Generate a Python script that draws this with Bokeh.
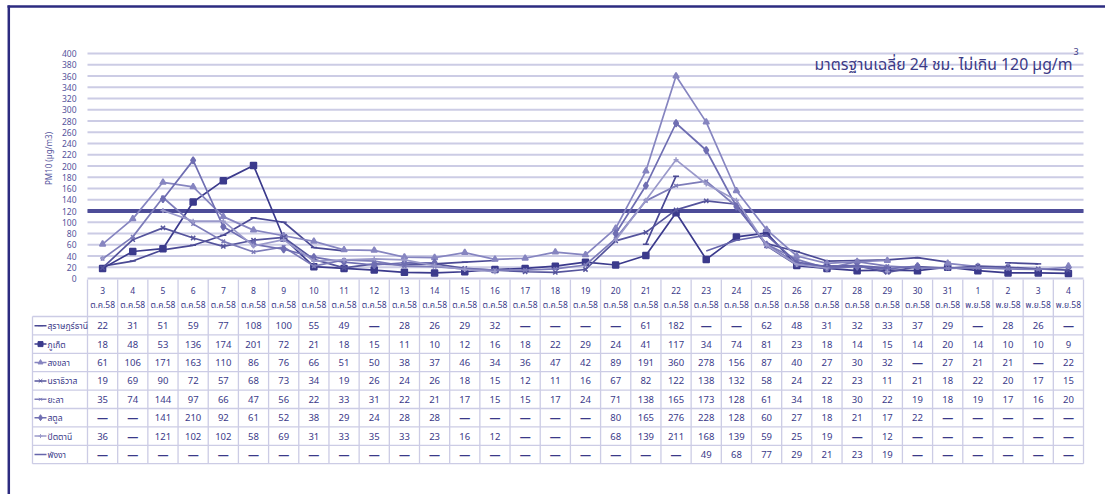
import math
from bokeh.plotting import figure
from bokeh.models import Range1d
from bokeh.core.properties import value
from bokeh.embed import file_html
from bokeh.resources import INLINE

N = None
days = [3, 4, 5, 6, 7, 8, 9, 10, 11, 12, 13, 14, 15, 16, 17, 18, 19, 20, 21, 22,
        23, 24, 25, 26, 27, 28, 29, 30, 31, 1, 2, 3, 4]
months = ["ต.ค.58"] * 29 + ["พ.ย.58"] * 4

stations = ["สุราษฎร์ธานี", "ภูเก็ต", "สงขลา", "นราธิวาส", "ยะลา", "สตูล", "ปัตตานี", "พังงา"]

surat = [22, 31, 51, 59, 77, 108, 100, 55, 49, N, 28, 26, 29, 32, N, N, N, N, 61, 182,
         N, N, 62, 48, 31, 32, 33, 37, 29, N, 28, 26, N]
phuket = [18, 48, 53, 136, 174, 201, 72, 21, 18, 15, 11, 10, 12, 16, 18, 22, 29, 24, 41, 117,
          34, 74, 81, 23, 18, 14, 15, 14, 20, 14, 10, 10, 9]
songkhla = [61, 106, 171, 163, 110, 86, 76, 66, 51, 50, 38, 37, 46, 34, 36, 47, 42, 89, 191, 360,
            278, 156, 87, 40, 27, 30, 32, N, 27, 21, 21, N, 22]
narathiwat = [19, 69, 90, 72, 57, 68, 73, 34, 19, 26, 24, 26, 18, 15, 12, 11, 16, 67, 82, 122,
              138, 132, 58, 24, 22, 23, 11, 21, 18, 22, 20, 17, 15]
yala = [35, 74, 144, 97, 66, 47, 56, 22, 33, 31, 22, 21, 17, 15, 15, 17, 24, 71, 138, 165,
        173, 128, 61, 34, 18, 30, 22, 19, 18, 19, 17, 16, 20]
satun = [N, N, 141, 210, 92, 61, 52, 38, 29, 24, 28, 28, N, N, N, N, N, 80, 165, 276,
         228, 128, 60, 27, 18, 21, 17, 22, N, N, N, N, N]
pattani = [36, N, 121, 102, 102, 58, 69, 31, 33, 35, 33, 23, 16, 12, N, N, N, 68, 139, 211,
           168, 139, 59, 25, 19, N, 12, N, N, N, N, N, N]
phangnga = [N] * 20 + [49, 68, 77, 29, 21, 23, 19] + [N] * 6

series = [surat, phuket, songkhla, narathiwat, yala, satun, pattani, phangnga]

y_ticks = list(range(0, 401, 20))
threshold = 120
title_text = "มาตรฐานเฉลี่ย 24 ชม. ไม่เกิน 120 µg/m"
y_title = "PM10 (µg/m3)"

# styles
colors = ["#4a4994", "#3b3a8c", "#8685c0", "#55549c", "#7d7cb9", "#6f6eb2", "#9a99ca", "#6665ab"]
markers = ["dash", "square", "triangle", "x", "x", "diamond", "cross", None]
msizes = [6, 6, 6, 6, 5, 7, 5, 0]
navy = "#3a3989"
grid_col = "#cccce5"
FONT = "Noto Sans, Noto Sans Thai, Tahoma, sans-serif"

# pixel geometry (page coordinates; the page has no margin)
W, H = 1105, 494
PXX = 996 / 33.0     # px per category
PXY = 225 / 400.0    # px per unit
x0_page, y0_page = 87, 278

def xd(page_x):
    return (page_x - x0_page) / PXX

def yd(page_y):
    return (y0_page - page_y) / PXY

p = figure(width=W, height=H, output_backend="svg", toolbar_location=None,
           x_range=Range1d(xd(0), xd(W)), y_range=Range1d(yd(H), yd(0)),
           x_axis_location=None, y_axis_location=None, min_border=0)
p.outline_line_color = None
p.grid.visible = False

n = len(days)
xs = [i + 0.5 for i in range(n)]

# frame lines
p.segment(x0=[xd(7)], y0=[yd(6)], x1=[xd(W)], y1=[yd(6)], line_color="#2c2b80", line_width=2.5)
p.segment(x0=[xd(8.3)], y0=[yd(5)], x1=[xd(8.3)], y1=[yd(H)], line_color="#2c2b80", line_width=2.5)

# gridlines
p.segment(x0=[0] * len(y_ticks), y0=y_ticks, x1=[n] * len(y_ticks), y1=y_ticks,
          line_color=grid_col, line_width=2)
p.text(x=[xd(76)] * len(y_ticks), y=y_ticks, text=[str(t) for t in y_ticks],
       text_align="right", text_baseline="middle", text_font=value(FONT),
       text_font_size=value("8.5px"), text_color="#55549c")
p.text(x=[xd(48)], y=[yd(158)], text=[y_title], angle=math.pi / 2, text_align="center",
       text_baseline="middle", text_font=value(FONT), text_font_size=value("8px"),
       text_color="#55549c")

# threshold
p.segment(x0=[0], y0=[threshold], x1=[n], y1=[threshold], line_color="#4d4c98", line_width=4)

# series
for vals, c, m, ms in zip(series, colors, markers, msizes):
    ys = [float("nan") if v is None else v for v in vals]
    p.line(xs, ys, line_color=c, line_width=1.7)
    if m:
        px = [x for x, v in zip(xs, vals) if v is not None]
        py = [v for v in vals if v is not None]
        p.scatter(px, py, marker=m, size=ms, line_color=c, fill_color=c, line_width=1.5)

# title
p.text(x=[xd(1072)], y=[yd(63)], text=[title_text], text_align="right", text_baseline="alphabetic",
       text_font=value(FONT), text_font_size=value("15.8px"), text_color="#3b3a86")
p.text(x=[xd(1073)], y=[yd(51)], text=["3"], text_align="left", text_baseline="alphabetic",
       text_font=value(FONT), text_font_size=value("9px"), text_color="#3b3a86")

# table
row_top = 316
row_h = 18.4
nrows = len(stations)
row_lines = [yd(row_top + k * row_h) for k in range(nrows + 1)]
bottom = row_lines[-1]
# vertical column lines
p.segment(x0=list(range(n + 1)), y0=[yd(279)] * (n + 1), x1=list(range(n + 1)),
          y1=[bottom] * (n + 1), line_color=grid_col, line_width=1.3)
p.segment(x0=[xd(32)], y0=[row_lines[0]], x1=[xd(32)], y1=[bottom], line_color=grid_col, line_width=1.3)
p.segment(x0=[xd(32)] * len(row_lines), y0=row_lines, x1=[n] * len(row_lines), y1=row_lines,
          line_color=grid_col, line_width=1.3)

p.text(x=xs, y=[yd(290)] * n, text=[str(d) for d in days], text_align="center",
       text_baseline="middle", text_font=value(FONT), text_font_size=value("8.5px"), text_color=navy)
p.text(x=xs, y=[yd(304)] * n, text=months, text_align="center", text_baseline="middle",
       text_font=value(FONT), text_font_size=value("8.5px"), text_color=navy)

for k, (name, vals, c, m, ms) in enumerate(zip(stations, series, colors, markers, msizes)):
    yc = yd(row_top + k * row_h + row_h / 2)
    p.segment(x0=[xd(34)], y0=[yc], x1=[xd(46)], y1=[yc], line_color=c, line_width=1.5)
    if m:
        p.scatter([xd(40)], [yc], marker=m, size=ms - 1, line_color=c, fill_color=c)
    p.text(x=[xd(47)], y=[yc], text=[name], text_align="left", text_baseline="middle",
           text_font=value(FONT), text_font_size=value("8.5px"), text_color=navy)
    vx = [x for x, v in zip(xs, vals) if v is not None]
    vt = [str(v) for v in vals if v is not None]
    p.text(x=vx, y=[yc] * len(vx), text=vt, text_align="center", text_baseline="middle",
           text_font=value(FONT), text_font_size=value("9.5px"), text_color=navy)
    dx = [x for x, v in zip(xs, vals) if v is None]
    p.text(x=dx, y=[yc] * len(dx), text=["—"] * len(dx), text_align="center", text_baseline="middle",
           text_font=value(FONT), text_font_size=value("11px"), text_font_style="bold", text_color=navy)

open("out.html", "w").write(file_html(p, INLINE))
